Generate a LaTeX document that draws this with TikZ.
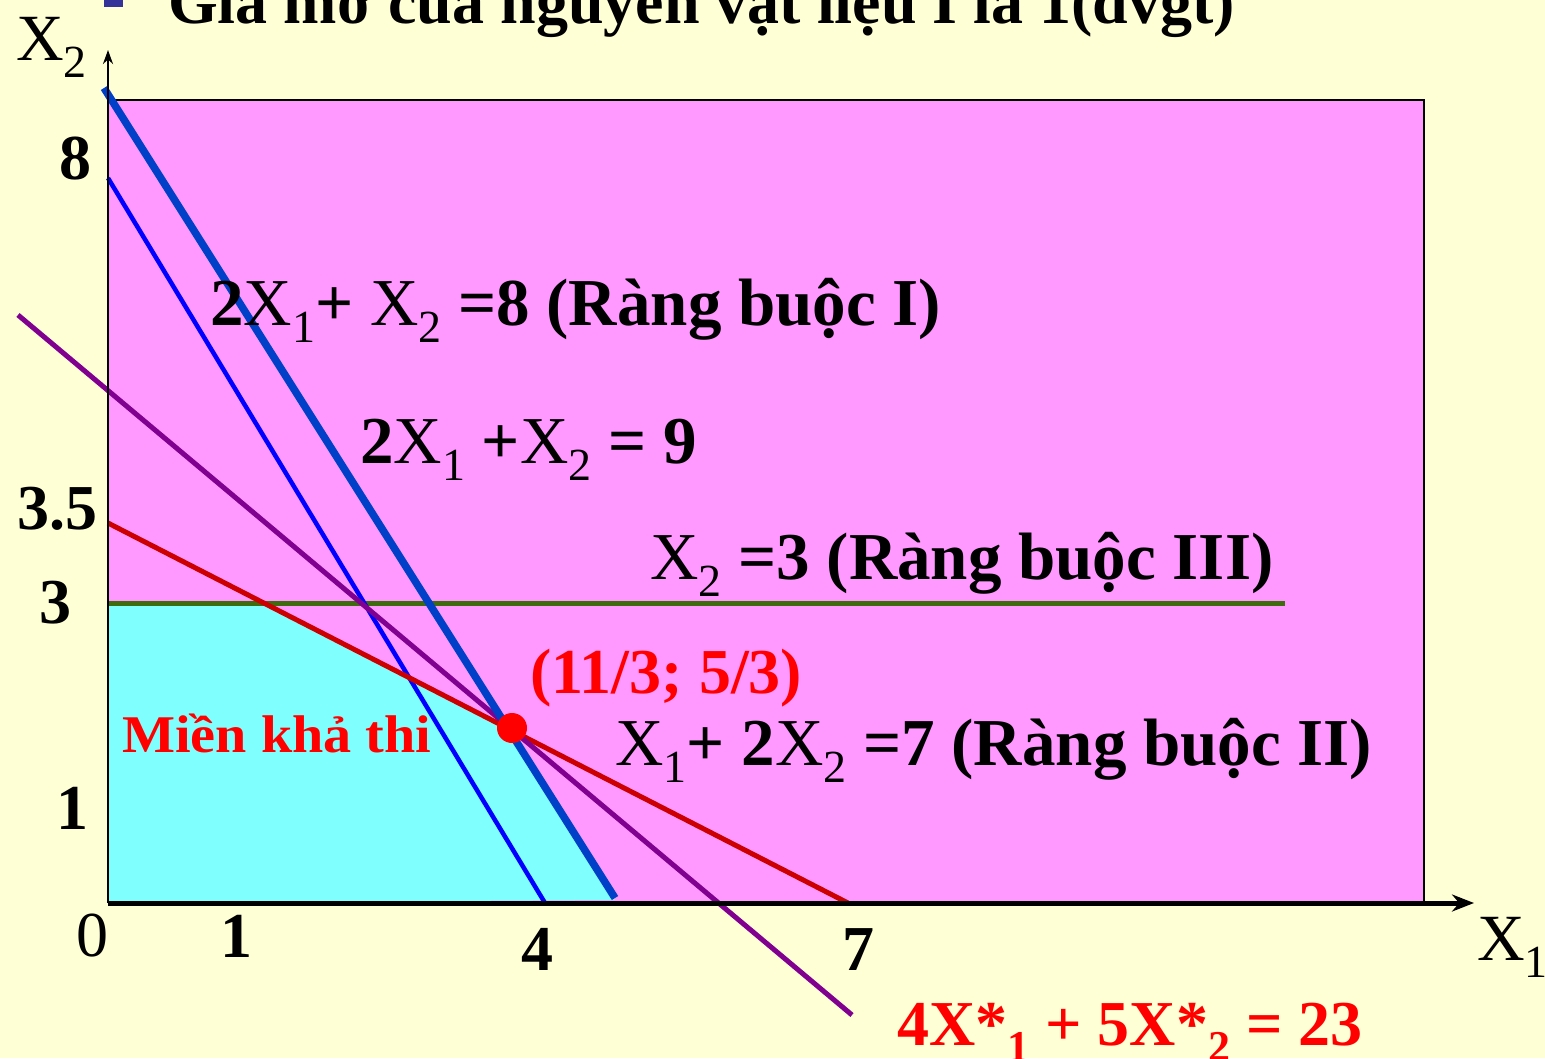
\documentclass[tikz,border=0pt]{standalone}
\usepackage{fontspec}
\setmainfont{Liberation Serif}
\newfontfamily\wideserif{Liberation Serif}[FakeStretch=1.06]
\usetikzlibrary{arrows.meta}
\definecolor{bgyellow}{HTML}{FFFFD6}
\definecolor{pinkfill}{HTML}{FF99FF}
\definecolor{cyanfill}{HTML}{80FFFF}
\definecolor{thickblue}{HTML}{0040C8}
\definecolor{thinblue}{HTML}{0000FF}
\definecolor{objpurple}{HTML}{800090}
\definecolor{redline}{HTML}{CC0000}
\definecolor{greenline}{HTML}{3D6B0E}
\definecolor{bulletblue}{HTML}{333399}
\newcommand\sbs[1]{\raisebox{-0.26em}{\fontsize{46}{46}\selectfont\mdseries #1}}
\newcommand\Xr{{\mdseries X}}
\tikzset{
  lbl/.style={anchor=base west, inner sep=0pt, font=\fontsize{67}{67}\selectfont\bfseries},
  redlbl/.style={lbl, text=red},
  tick/.style={anchor=base, inner sep=0pt, font=\fontsize{64}{64}\selectfont\bfseries},
  axlbl/.style={anchor=base west, inner sep=0pt, font=\fontsize{66}{66}\selectfont},
}
\begin{document}
\begin{tikzpicture}[x=1pt,y=-1pt]
\path[use as bounding box] (0,0) rectangle (1545,1058);
\begin{scope}
\clip (0,0) rectangle (1545,1058);
\fill[bgyellow] (0,0) rectangle (1545,1058);
% title (cut at top)
\fill[bulletblue] (104,-10) rectangle (123,7);
\node[anchor=base west, inner sep=0pt, font=\fontsize{64}{64}\selectfont\bfseries] (title) at (168,23) {Giá mờ của nguyên vật liệu I là 1(đvgt)};
% plane
\fill[pinkfill] (108,100) rectangle (1424,903);
\draw[line width=1.5pt] (108,100) -- (1424,100) -- (1424,903);
\fill[cyanfill] (108,603) -- (264,603) -- (508,728) -- (615,900) -- (108,903) -- cycle;
% coordinates
\coordinate (b9a) at (104,88);  \coordinate (b9b) at (615,898);
\coordinate (b8a) at (108,178); \coordinate (b8b) at (545,903);
\coordinate (pa) at (18,315);   \coordinate (pb) at (852,1015);
\coordinate (ra) at (108,523);  \coordinate (rb) at (848,903);
\coordinate (ga) at (108,603);  \coordinate (gb) at (1285,603);
\coordinate (O) at (108,903);
\coordinate (xend) at (1474,903);
\coordinate (yend) at (108,50);
% lines
\draw[greenline, line width=5pt] (ga) -- (gb);
\draw[thinblue, line width=4.5pt] (b8a) -- (b8b);
\draw[redline, line width=5pt] (ra) -- (rb);
\draw[objpurple, line width=5pt] (pa) -- (pb);
\draw[thickblue, line width=7.5pt] (b9a) -- (b9b);
% axes
\draw[line width=2.5pt, -{Stealth[length=14pt,width=10pt]}] (O) -- (yend);
\draw[line width=5pt, -{Stealth[length=22pt,width=17pt]}] (O) -- (xend);
% optimum
\fill[red] (512,728) circle (15) node (opt) {};
% axis labels
\node[axlbl] (X2) at (16,60) {X\sbs{2}};
\node[axlbl] (X1) at (1477,960) {X\sbs{1}};
% ticks
\node[tick] (t8) at (75,179) {8};
\node[tick] (t35) at (57,529) {3.5};
\node[tick] (t3) at (55,623) {3};
\node[tick] (t1y) at (72,829) {1};
\node[tick, font=\fontsize{64}{64}\selectfont] (t0) at (92,956) {0};
\node[tick] (t1x) at (236,957) {1};
\node[tick] (t4) at (537,970) {4};
\node[tick] (t7) at (858,970) {7};
% labels
\node[lbl] (L1) at (210,325) {2\Xr\sbs{1}+ \Xr\sbs{2} =8 (Ràng buộc I)};
\node[lbl] (L2) at (360,463) {2\Xr\sbs{1} +\Xr\sbs{2} = 9};
\node[lbl] (L3) at (650,579) {\Xr\sbs{2} =3 (Ràng buộc III)};
\node[redlbl, font=\fontsize{64}{64}\selectfont\bfseries] (L4) at (530,693) {(11/3; 5/3)};
\node[lbl] (L5) at (615,765) {\Xr\sbs{1}+ 2\Xr\sbs{2} =7 (Ràng buộc II)};
\node[redlbl, font=\fontsize{53}{53}\selectfont\bfseries\wideserif] (L6) at (122,752) {Miền khả thi};
\node[redlbl, font=\fontsize{64}{64}\selectfont\bfseries] (L7) at (897,1045) {4X*\raisebox{-0.26em}{\fontsize{44}{44}\selectfont 1} + 5X*\raisebox{-0.26em}{\fontsize{44}{44}\selectfont 2} = 23};
\end{scope}
\end{tikzpicture}
\end{document}
